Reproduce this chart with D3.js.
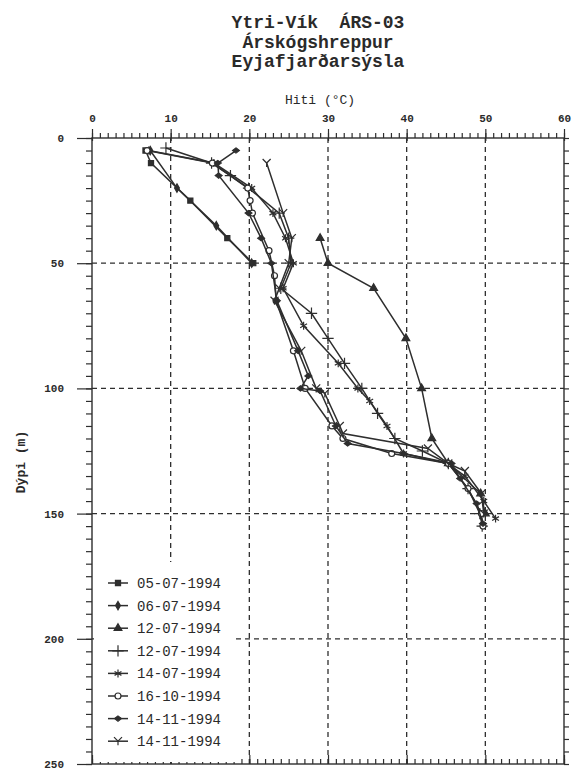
<!DOCTYPE html>
<html>
<head>
<meta charset="utf-8">
<script src="https://cdn.jsdelivr.net/npm/d3@7"></script>
<style>
    body { margin: 0; background: #ffffff; }
    text { font-family: "Liberation Mono", "DejaVu Sans Mono", monospace; fill: #2a2a2a; white-space: pre; }
</style>
</head>
<body>
<svg id="chart" width="576" height="775"></svg>
<script>
// titles and labels
const titleLines = ["Ytri-Vík  ÁRS-03", "Árskógshreppur", "Eyjafjarðarsýsla"];
const xTitle = "Hiti (°C)";
const yTitle = "Dýpi (m)";
const xTicks = [0, 10, 20, 30, 40, 50, 60];
const yTicks = [0, 50, 100, 150, 200, 250];

// series names (legend order)
const seriesNames = ["05-07-1994", "06-07-1994", "12-07-1994", "12-07-1994",
    "14-07-1994", "16-10-1994", "14-11-1994", "14-11-1994"];

// depth (m) and temperature (C), one pair of arrays per series
const depth1 = [5, 10, 25, 40, 50];
const temp1  = [6.8, 7.5, 12.5, 17.2, 20.5];

const depth2 = [5, 20, 35, 50];
const temp2  = [7.4, 10.8, 15.8, 20.3];

const depth3 = [40, 50, 60, 80, 100, 120, 130, 142, 150];
const temp3  = [29.0, 30.0, 35.8, 39.9, 41.9, 43.2, 45.3, 49.4, 50.0];

const depth4 = [4, 10, 15, 20, 30, 40, 50, 60, 70, 80, 90, 100, 110, 120, 125, 130, 140, 150, 155];
const temp4  = [9.4, 15.2, 17.6, 19.9, 23.8, 25.0, 25.3, 24.0, 27.9, 30.0, 32.1, 34.3, 36.3, 38.5, 42.0, 45.3, 47.8, 49.3, 49.6];

const depth5 = [5, 10, 20, 30, 40, 50, 60, 75, 90, 100, 105, 115, 126, 130, 135, 145, 152];
const temp5  = [7.2, 15.5, 20.3, 23.0, 24.6, 25.6, 24.3, 26.9, 31.3, 33.8, 35.3, 37.5, 39.6, 45.2, 47.4, 49.8, 51.3];

const depth6 = [5, 10, 20, 25, 30, 45, 55, 65, 85, 100, 115, 120, 126, 130, 140, 150, 155];
const temp6  = [7.0, 15.3, 19.8, 20.1, 20.4, 22.5, 23.2, 23.4, 25.6, 27.1, 30.5, 31.9, 38.1, 45.3, 47.8, 49.5, 49.7];

const depth7 = [5, 10, 15, 30, 40, 50, 65, 85, 95, 100, 101, 115, 122, 126, 130, 136, 146, 154];
const temp7  = [18.3, 16.0, 16.1, 19.9, 21.5, 22.8, 23.5, 26.2, 27.5, 26.5, 29.0, 31.0, 32.5, 39.6, 45.7, 46.8, 48.9, 49.7];

const depth8 = [10, 30, 40, 50, 60, 65, 85, 100, 102, 115, 118, 124, 130, 133, 142, 150];
const temp8  = [22.2, 24.3, 25.4, 25.0, 23.8, 23.2, 26.6, 28.5, 29.6, 31.5, 31.9, 42.7, 45.3, 47.4, 49.5, 49.8];

const depths = [depth1, depth2, depth3, depth4, depth5, depth6, depth7, depth8];
const temps = [temp1, temp2, temp3, temp4, temp5, temp6, temp7, temp8];

const ink = "#2e2e2e";

// plot frame
const plot = {left: 92, right: 564, top: 138, bottom: 764};

const x = d3.scaleLinear().domain([0, 60]).range([plot.left, plot.right]);
const y = d3.scaleLinear().domain([0, 250]).range([plot.top, plot.bottom]);

const svg = d3.select("#chart");

// marker shapes, one per series
const markers = [
    {type: d3.symbolSquare, size: 26, fill: ink},
    {type: d3.symbolDiamond, size: 20, fill: ink},
    {type: d3.symbolTriangle, size: 26, fill: ink},
    {type: d3.symbolPlus, size: 44, fill: "none"},
    {type: d3.symbolAsterisk, size: 44, fill: "none"},
    {type: d3.symbolCircle, size: 28, fill: "#ffffff"},
    {type: d3.symbolDiamond, size: 18, fill: ink, sx: 1.6, sy: 0.7},
    {path: "M-4,-4L0,0L4,-4M0,0L0,4", fill: "none"}
];

function markerPath(m)
{
    if(m.path) return m.path;
    return d3.symbol().type(m.type).size(m.size)();
}

function drawMarker(g, m, px, py)
{
    let t = "translate(" + px + "," + py + ")";
    if(m.sx) t += " scale(" + m.sx + "," + m.sy + ")";
    g.append("path")
        .attr("d", markerPath(m))
        .attr("transform", t)
        .attr("fill", m.fill)
        .attr("stroke", ink)
        .attr("stroke-width", m.sx ? 0.8 : 1.2);
}

// titles
titleLines.forEach(function(s, i) {
    svg.append("text")
        .attr("x", 318)
        .attr("y", 28 + i * 19.5)
        .attr("text-anchor", "middle")
        .attr("font-size", 18)
        .attr("font-weight", "bold")
        .text(s);
});

svg.append("text")
    .attr("x", 320).attr("y", 104)
    .attr("text-anchor", "middle")
    .attr("font-size", 13)
    .text(xTitle);

svg.append("text")
    .attr("transform", "translate(25,462) rotate(-90)")
    .attr("text-anchor", "middle")
    .attr("font-size", 13)
    .attr("font-weight", "bold")
    .text(yTitle);

// dashed grid
const grid = svg.append("g")
    .attr("stroke", ink)
    .attr("stroke-width", 1.3)
    .attr("stroke-dasharray", "5,4");

grid.selectAll(".vgrid")
    .data(xTicks.slice(1, -1))
    .enter().append("line")
    .attr("x1", function(d) { return x(d); })
    .attr("x2", function(d) { return x(d); })
    .attr("y1", plot.top)
    .attr("y2", plot.bottom);

grid.selectAll(".hgrid")
    .data(yTicks.slice(1, -1))
    .enter().append("line")
    .attr("x1", plot.left)
    .attr("x2", plot.right)
    .attr("y1", function(d) { return y(d); })
    .attr("y2", function(d) { return y(d); });

// axes: top and bottom with 1 C minor ticks, left and right with 5 m minor ticks
const minorX = d3.range(0, 61, 1);
const minorY = d3.range(0, 251, 5);

svg.append("g")
    .attr("transform", "translate(0," + plot.top + ")")
    .call(d3.axisTop(x).tickValues(minorX).tickSize(5).tickFormat(""))
    .call(function(g) { g.select(".domain").remove(); });

svg.append("g")
    .attr("transform", "translate(0," + plot.top + ")")
    .call(d3.axisTop(x).tickValues(xTicks).tickSize(9).tickPadding(7)
        .tickFormat(d3.format("d")))
    .call(function(g) { g.select(".domain").remove(); })
    .call(function(g) { g.selectAll(".tick line").attr("y2", -9).attr("y1", 3); })
    .call(function(g) { g.selectAll("text").attr("font-size", 11).attr("font-weight", "bold"); });

svg.append("g")
    .attr("transform", "translate(0," + plot.bottom + ")")
    .call(d3.axisTop(x).tickValues(minorX).tickSize(5).tickFormat(""))
    .call(function(g) { g.select(".domain").remove(); });

svg.append("g")
    .attr("transform", "translate(0," + plot.bottom + ")")
    .call(d3.axisTop(x).tickValues(xTicks).tickSize(9).tickFormat(""))
    .call(function(g) { g.select(".domain").remove(); });

svg.append("g")
    .attr("transform", "translate(" + plot.left + ",0)")
    .call(d3.axisLeft(y).tickValues(minorY).tickSize(6).tickFormat(""))
    .call(function(g) { g.select(".domain").remove(); });

svg.append("g")
    .attr("transform", "translate(" + plot.left + ",0)")
    .call(d3.axisLeft(y).tickValues(yTicks).tickSize(15).tickPadding(13)
        .tickFormat(d3.format("d")))
    .call(function(g) { g.select(".domain").remove(); })
    .call(function(g) { g.selectAll("text").attr("font-size", 11).attr("font-weight", "bold"); });

svg.append("g")
    .attr("transform", "translate(" + plot.right + ",0)")
    .call(d3.axisRight(y).tickValues(minorY).tickSize(5).tickFormat(""))
    .call(function(g) { g.select(".domain").remove(); });

svg.selectAll(".tick line").attr("stroke", ink).attr("stroke-width", 1.2);
svg.selectAll(".tick text").attr("fill", "#2a2a2a");

// frame
svg.append("rect")
    .attr("x", plot.left).attr("y", plot.top)
    .attr("width", plot.right - plot.left)
    .attr("height", plot.bottom - plot.top)
    .attr("fill", "none")
    .attr("stroke", ink)
    .attr("stroke-width", 1.4);

// temperature profiles
const line = d3.line()
    .x(function(d) { return x(d.t); })
    .y(function(d) { return y(d.z); });

const profiles = svg.append("g");

depths.forEach(function(zs, i) {
    let pts = zs.map(function(z, j) { return {z: z, t: temps[i][j]}; });
    profiles.append("path")
        .attr("d", line(pts))
        .attr("fill", "none")
        .attr("stroke", ink)
        .attr("stroke-width", 1.5);
    pts.forEach(function(p) {
        drawMarker(profiles, markers[i], x(p.t), y(p.z));
    });
});

// legend on a white box that hides the grid behind it
const legend = svg.append("g");
legend.append("rect")
    .attr("x", plot.left + 2).attr("y", 562)
    .attr("width", 142).attr("height", plot.bottom - 564)
    .attr("fill", "#ffffff");

seriesNames.forEach(function(name, i) {
    let ly = 583 + i * 22.6;
    legend.append("line")
        .attr("x1", 108).attr("x2", 128)
        .attr("y1", ly).attr("y2", ly)
        .attr("stroke", ink)
        .attr("stroke-width", 1.5);
    drawMarker(legend, markers[i], 118, ly);
    legend.append("text")
        .attr("x", 137).attr("y", ly + 5)
        .attr("font-size", 14)
        .text(name);
});
</script>
</body>
</html>
